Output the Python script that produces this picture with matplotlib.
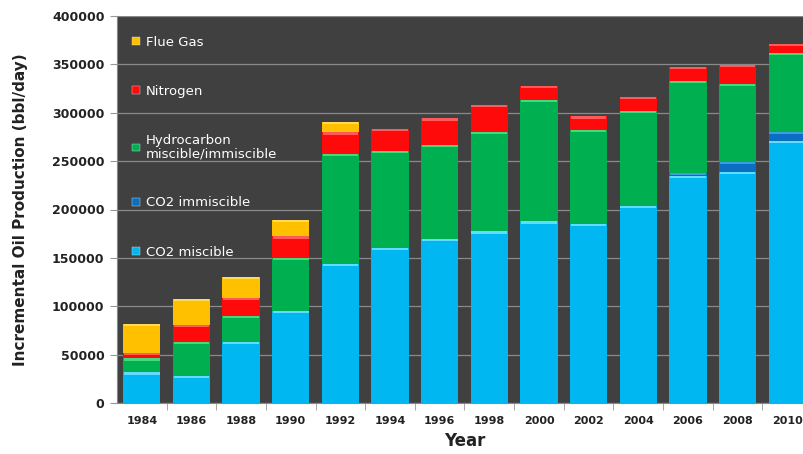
import numpy as np
import matplotlib
matplotlib.use("Agg")
import matplotlib.pyplot as plt
from matplotlib.patches import Patch

years = ['1984', '1986', '1988', '1990', '1992', '1994', '1996', '1998',
         '2000', '2002', '2004', '2006', '2008', '2010']
co2_miscible = [31600, 27800, 63200, 95200, 144000, 160100, 169800, 177300,
                187600, 185200, 204100, 234300, 239200, 271100]
co2_immiscible = [0, 0, 0, 0, 0, 0, 0, 0, 0, 0, 0, 3500, 10300, 9300]
hydrocarbon = [14400, 35100, 26500, 54600, 113400, 100700, 96900, 103100,
               125500, 96900, 98000, 95200, 80700, 81800]
nitrogen = [5800, 18200, 18900, 22400, 22300, 22400, 27400, 27800,
            14700, 14100, 14400, 14800, 19300, 8600]
flue_gas = [30300, 26100, 21300, 17200, 11000, 0, 0, 0, 0, 0, 0, 0, 0, 0]

series = [
    ('CO2 miscible', co2_miscible, '#00b7f1', '#5fdcff'),
    ('CO2 immiscible', co2_immiscible, '#0a6fc2', '#3d9be0'),
    ('Hydrocarbon\nmiscible/immiscible', hydrocarbon, '#00b050', '#45d97f'),
    ('Nitrogen', nitrogen, '#ff0a0a', '#ff5a5a'),
    ('Flue Gas', flue_gas, '#ffc000', '#ffdb55'),
]

fig = plt.figure(figsize=(8.04, 4.54), dpi=100)
ax = fig.add_axes([117/804, 51/454, 695/804, 387/454])
ax.set_facecolor('#404040')

x = np.arange(len(years))
w = 0.75
bottom = np.zeros(len(years))
for name, vals, col, hi in series:
    vals = np.array(vals, dtype=float)
    ax.bar(x, vals, w, bottom=bottom, color=col, zorder=3, linewidth=0)
    # bevel highlight at the top of each segment
    mask = vals > 3000
    ax.bar(x[mask], 2200, w * 0.96, bottom=(bottom + vals)[mask] - 2200,
           color=hi, zorder=4, linewidth=0)
    bottom += vals

ax.set_xlim(-0.5, len(years) - 0.5)
ax.set_ylim(0, 400000)
ax.set_yticks(np.arange(0, 400001, 50000))
ax.set_yticklabels([str(v) for v in range(0, 400001, 50000)],
                   fontsize=9, fontweight='bold', color='#222222')
ax.grid(axis='y', color='#8a8a8a', lw=0.9, zorder=1)
ax.set_xticks(x)
ax.set_xticklabels(years, fontsize=8, fontweight='bold', color='#222222')
ax.tick_params(axis='x', length=0, pad=9)
ax.set_xticks(np.arange(0.5, len(years) - 0.5, 1), minor=True)
ax.tick_params(axis='x', which='minor', length=5, color='#999999')
ax.tick_params(axis='y', length=5, color='#999999', pad=4)
for s in ['top', 'right']:
    ax.spines[s].set_visible(False)
ax.spines['left'].set_color('#888888')
ax.spines['bottom'].set_color('#888888')

ax.set_xlabel('Year', fontsize=12, fontweight='bold', color='#222222', labelpad=5)
ax.set_ylabel('Incremental Oil Production (bbl/day)', fontsize=11,
              fontweight='bold', color='#222222', labelpad=17)

handles = [Patch(facecolor=col, edgecolor='#dddddd', lw=0.3, label=name)
           for name, vals, col, hi in series[::-1]]
leg = ax.legend(handles=handles, loc='upper left', bbox_to_anchor=(0.005, 0.98),
                frameon=False, fontsize=9.5, labelspacing=2.75,
                handlelength=0.55, handleheight=0.55, handletextpad=0.5)
for t in leg.get_texts():
    t.set_color('white')
    t.set_linespacing(1.0)

fig.savefig('out.png', dpi=100)
